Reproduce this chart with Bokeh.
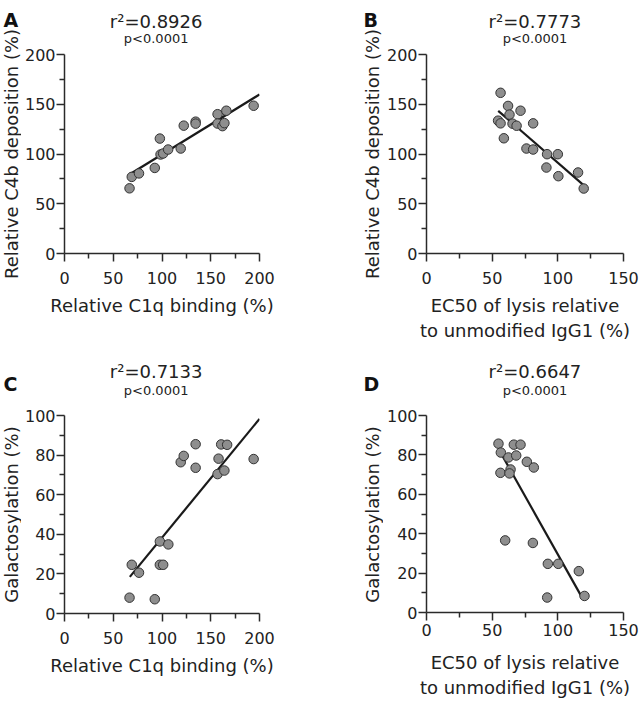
import math
from bokeh.plotting import figure
from bokeh.models import Range1d, FixedTicker
from bokeh.core.properties import value
from bokeh.layouts import column, row
from bokeh.embed import file_html
from bokeh.resources import INLINE

# ---------------- data ----------------
c1q_binding_a = [66.7, 69, 76.4, 92.6, 97.8, 98.5, 101.2, 106.3, 119.2, 122.3, 134.5, 134.5, 157, 157, 162, 164, 166, 194]
c4b_a = [65.5, 77, 80.5, 86, 115.5, 99.5, 100.5, 104.5, 105.5, 128.5, 132.5, 130.5, 140, 130.6, 128, 131, 143.5, 148.5]
fit_a_x = [67, 200]
fit_a_y = [79.7, 159.8]

ec50_b = [56.4, 54.5, 56.4, 58.9, 62.1, 63.2, 65.5, 68.6, 71.6, 76.1, 81.2, 81.2, 91.8, 91.3, 100.0, 100.4, 115.4, 119.7]
c4b_b = [161.5, 133.5, 130.8, 115.8, 148.3, 139.6, 130.5, 128.4, 143.5, 105.5, 104.5, 130.8, 99.8, 86.4, 99.8, 77.7, 81.4, 65.3]
fit_b_x = [54.6, 122]
fit_b_y = [143.4, 66.0]

c1q_binding_c = [66.7, 69, 76.4, 92.6, 97.8, 97.8, 101.2, 106.5, 119.2, 122.3, 134.5, 134.5, 158, 157, 160.7, 164, 166.8, 194]
galactosylation_c = [8.0, 24.6, 20.6, 7.2, 36.4, 24.6, 24.6, 34.9, 76.4, 79.6, 85.5, 73.6, 78.2, 70.4, 85.4, 72.2, 85.2, 78.0]
fit_c_x = [67, 200]
fit_c_y = [18.5, 98.3]

ec50_d = [54.8, 56.6, 56.3, 59.9, 62.4, 64.0, 63.2, 66.5, 68.3, 71.6, 76.4, 81.7, 81.0, 92.4, 91.9, 100.3, 116.0, 120.3]
galactosylation_d = [85.7, 81.2, 70.9, 36.6, 78.7, 72.6, 70.6, 85.2, 79.7, 85.2, 76.5, 73.6, 35.3, 24.7, 7.6, 24.7, 21.0, 8.4]
fit_d_x = [57, 117.5]
fit_d_y = [80.5, 8.7]

ticks_200 = [0, 50, 100, 150, 200]
minor_200 = [25, 75, 125, 175]
ticks_150 = [0, 50, 100, 150]
minor_150 = [25, 75, 125]
ticks_100 = [0, 20, 40, 60, 80, 100]
minor_100 = [10, 30, 50, 70, 90]

label_c1q = "Relative C1q binding (%)"
label_ec50 = "EC50 of lysis relative\nto unmodified IgG1 (%)"
label_c4b = "Relative C4b deposition (%)"
label_gal = "Galactosylation (%)"

letter_a, letter_b, letter_c, letter_d = "A", "B", "C", "D"
r2_a, r2_b, r2_c, r2_d = "r\u00b2=0.8926", "r\u00b2=0.7773", "r\u00b2=0.7133", "r\u00b2=0.6647"
p_value = "p<0.0001"

FONT = "DejaVu Sans"
TXT = "#222222"
AX = "#2a2a2a"


def blank(width, height):
    f = figure(width=width, height=height, output_backend="svg",
               toolbar_location=None, x_range=Range1d(0, width),
               y_range=Range1d(0, height), x_axis_type=None,
               y_axis_type=None, min_border=0)
    f.outline_line_color = None
    f.xgrid.visible = False
    f.ygrid.visible = False
    f.border_fill_color = "white"
    f.background_fill_color = "white"
    return f


def panel(xs, ys, fx, fy, xmax, xt, xm, ymax, yt, ym, xlabel,
          width, height, left, right, top, bottom, tick_standoff, label_standoff):
    p = figure(width=width, height=height, output_backend="svg",
               toolbar_location=None, x_range=Range1d(0, xmax),
               y_range=Range1d(0, ymax),
               min_border_left=left, min_border_right=right,
               min_border_top=top, min_border_bottom=bottom)
    p.outline_line_color = None
    p.xgrid.visible = False
    p.ygrid.visible = False
    p.background_fill_color = "white"
    p.border_fill_color = "white"

    p.xaxis.ticker = FixedTicker(ticks=xt, minor_ticks=xm)
    p.yaxis.ticker = FixedTicker(ticks=yt, minor_ticks=ym)
    for ax in (p.xaxis, p.yaxis):
        ax.axis_line_color = AX
        ax.axis_line_width = 1.5
        ax.major_tick_line_color = AX
        ax.major_tick_line_width = 1.5
        ax.minor_tick_line_color = AX
        ax.minor_tick_line_width = 1.5
        ax.major_tick_in = 0
        ax.major_tick_out = 8
        ax.minor_tick_in = 0
        ax.minor_tick_out = 5
        ax.major_label_text_font = FONT
        ax.major_label_text_font_size = "16px"
        ax.major_label_text_color = TXT
        ax.axis_label_text_font = FONT
        ax.axis_label_text_font_size = "18px"
        ax.axis_label_text_font_style = "normal"
        ax.axis_label_text_color = TXT
    p.xaxis.major_label_standoff = tick_standoff
    p.xaxis.axis_label_standoff = label_standoff
    p.yaxis.major_label_standoff = 1
    p.xaxis.axis_label = xlabel

    p.line(fx, fy, line_color="#1a1a1a", line_width=2.2)
    p.scatter(xs, ys, size=9.5, fill_color="#8e8e8e", line_color="#333333",
              line_width=1)
    return p


def header(width, height, centre, r2, r2_base, p_base):
    h = blank(width, height)
    h.text(x=[centre], y=[height - r2_base], text=[r2],
           text_font=value(FONT), text_font_size=value("18px"),
           text_color=TXT, text_align="center", text_baseline="alphabetic")
    h.text(x=[centre], y=[height - p_base], text=[p_value],
           text_font=value(FONT), text_font_size=value("13px"),
           text_color=TXT, text_align="center", text_baseline="alphabetic")
    return h


def strip(width, height, letter, letter_x, letter_base, ylabel, label_x, label_mid):
    s = blank(width, height)
    s.text(x=[letter_x], y=[height - letter_base], text=[letter],
           text_font=value(FONT), text_font_size=value("19px"),
           text_font_style="bold", text_color="#111111",
           text_align="left", text_baseline="alphabetic")
    s.text(x=[label_x], y=[height - label_mid], text=[ylabel], angle=math.pi / 2,
           text_font=value(FONT), text_font_size=value("18px"),
           text_color=TXT, text_align="center", text_baseline="middle")
    return s


# top row: frames at y 54..253, bottom row: frames at y 415..613
sA = strip(21, 350, letter_a, 3, 19.5, label_c4b, 10.5, 153.5)
hA = header(299, 46, 140.5, r2_a, 20.5, 38)
pA = panel(c1q_binding_a, c4b_a, fit_a_x, fit_a_y, 200, ticks_200, minor_200,
           200, ticks_200, minor_200, label_c1q, 299, 304, 43, 61, 8, 97, 10, 8)

sB = strip(63, 350, letter_b, 43, 19.5, label_c4b, 52, 153.5)
hB = header(257, 46, 141.5, r2_b, 20.5, 38)
pB = panel(ec50_b, c4b_b, fit_b_x, fit_b_y, 150, ticks_150, minor_150,
           200, ticks_200, minor_200, label_ec50, 257, 304, 43, 17, 8, 97, 10, 8)

sC = strip(21, 350, letter_c, 3, 33, label_gal, 10.5, 164)
hC = header(299, 57, 140.5, r2_c, 21, 40)
pC = panel(c1q_binding_c, galactosylation_c, fit_c_x, fit_c_y, 200, ticks_200, minor_200,
           100, ticks_100, minor_100, label_c1q, 299, 293, 43, 61, 8, 87, 10, 8)

sD = strip(63, 350, letter_d, 43, 33, label_gal, 52, 164)
hD = header(257, 57, 141.5, r2_d, 21, 40)
pD = panel(ec50_d, galactosylation_d, fit_d_x, fit_d_y, 150, ticks_150, minor_150,
           100, ticks_100, minor_100, label_ec50, 257, 293, 43, 17, 8, 87, 3, 13)

layout = column(
    row(sA, column(hA, pA), sB, column(hB, pB)),
    row(sC, column(hC, pC), sD, column(hD, pD)),
)

open("out.html", "w").write(file_html(layout, INLINE))
